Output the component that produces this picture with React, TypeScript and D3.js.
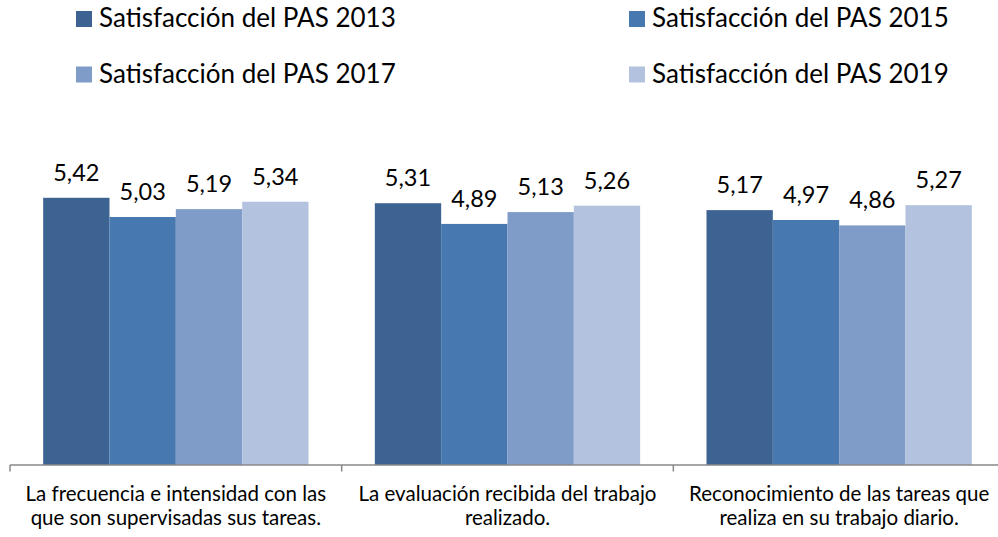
import React from "react";
import { scaleBand, scaleLinear } from "d3";

const categories = [
  ["La frecuencia e intensidad con las", "que son supervisadas sus tareas."],
  ["La evaluación recibida del trabajo", "realizado."],
  ["Reconocimiento de las tareas que", "realiza en su trabajo diario."],
];
const seriesNames = [
  "Satisfacción del PAS 2013",
  "Satisfacción del PAS 2015",
  "Satisfacción del PAS 2017",
  "Satisfacción del PAS 2019",
];
const pas2013 = [5.42, 5.31, 5.17];
const pas2015 = [5.03, 4.89, 4.97];
const pas2017 = [5.19, 5.13, 4.86];
const pas2019 = [5.34, 5.26, 5.27];

const colors = ["#3d6393", "#4778b0", "#7f9cc8", "#b3c3df"];
const font = "Lato, 'Open Sans', sans-serif";

export default function App() {
  const width = 998;
  const height = 537;
  const series = [pas2013, pas2015, pas2017, pas2019];

  const x0 = scaleBand<number>()
    .domain(categories.map((_, i) => i))
    .range([10, 1005]);
  const x1 = scaleBand<number>()
    .domain(seriesNames.map((_, i) => i))
    .range([0, x0.bandwidth()])
    .paddingOuter(0.5);
  const y = scaleLinear().domain([0, 6]).range([465, 169.2]);

  const fmt = (v: number) => v.toFixed(2).replace(".", ",");

  return (
    <svg
      width={width}
      height={height}
      style={{ position: "absolute", left: 0, top: 0 }}
      fontFamily={font}
    >
      <rect width={width} height={height} fill="#fff" />
      {/* legend */}
      {seriesNames.map((name, i) => {
        const lx = i % 2 === 0 ? 76 : 629;
        const ly = i < 2 ? 11 : 66.5;
        return (
          <g key={name}>
            <rect x={lx} y={ly} width={16} height={16} fill={colors[i]} />
            <text x={lx + 23} y={ly + 16} fontSize={26} fill="#000">
              {name}
            </text>
          </g>
        );
      })}

      {/* bars */}
      {categories.map((_, ci) => (
        <g key={ci} transform={`translate(${x0(ci)},0)`}>
          {series.map((vals, si) => {
            const bx = x1(si)!;
            const v = vals[ci];
            return (
              <g key={si}>
                <rect
                  x={bx}
                  y={y(v)}
                  width={x1.bandwidth()}
                  height={y(0) - y(v)}
                  fill={colors[si]}
                />
                <text
                  x={bx + x1.bandwidth() / 2}
                  y={y(v) - 17}
                  textAnchor="middle"
                  fontSize={23.5}
                  fill="#000"
                >
                  {fmt(v)}
                </text>
              </g>
            );
          })}
        </g>
      ))}

      {/* axis */}
      <line x1={10} x2={1005} y1={465} y2={465} stroke="#888" strokeWidth={1.5} />
      {categories.map((_, i) => (
        <line
          key={i}
          x1={x0(i)!}
          x2={x0(i)!}
          y1={465}
          y2={471.5}
          stroke="#888"
          strokeWidth={1.5}
        />
      ))}
      {categories.map((lines, i) => (
        <text
          key={i}
          x={x0(i)! + x0.bandwidth() / 2}
          y={501}
          textAnchor="middle"
          fontSize={20.5}
          fill="#000"
        >
          {lines.map((l, k) => (
            <tspan key={k} x={x0(i)! + x0.bandwidth() / 2} dy={k === 0 ? 0 : 24}>
              {l}
            </tspan>
          ))}
        </text>
      ))}
    </svg>
  );
}
